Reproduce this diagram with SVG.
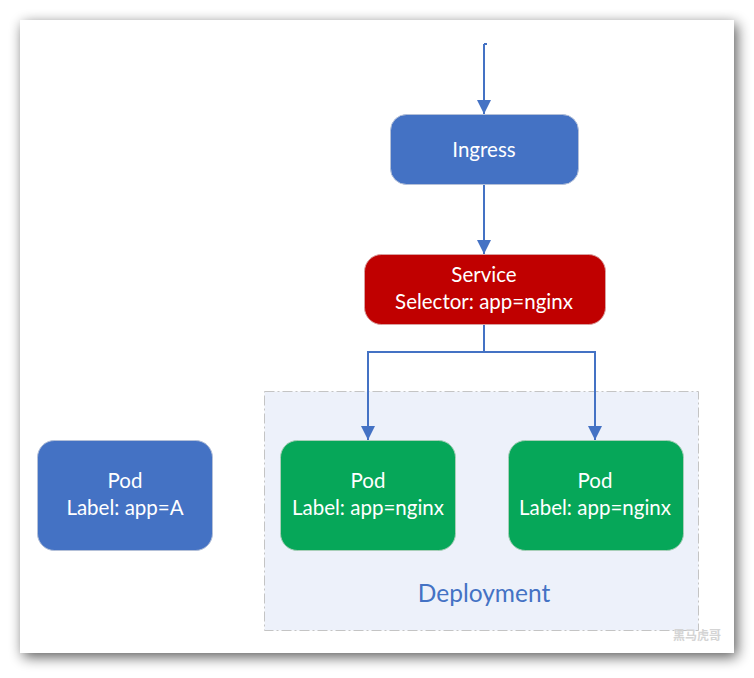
<svg xmlns="http://www.w3.org/2000/svg" width="754" height="678" viewBox="0 0 754 678">
  <defs>
    <filter id="shadow" x="-10%" y="-10%" width="120%" height="120%">
      <feGaussianBlur in="SourceAlpha" stdDeviation="7"/>
      <feOffset dx="3" dy="4" result="b"/>
      <feComponentTransfer><feFuncA type="linear" slope="0.65"/></feComponentTransfer>
      <feMerge><feMergeNode/><feMergeNode in="SourceGraphic"/></feMerge>
    </filter>
    <marker id="arrow" markerWidth="14" markerHeight="14" viewBox="0 0 14 14" refX="14" refY="7" orient="auto" markerUnits="userSpaceOnUse">
      <path d="M0,0 L14,7 L0,14 Z" fill="#4472C4"/>
    </marker>
  </defs>
  <style>
    .node { stroke: #b4c0d8; stroke-width: 1; }
    .blue { fill: #4472C4; }
    .red { fill: #C00000; stroke: #d9a0a0; }
    .green { fill: #06A759; stroke: #a8cfb8; }
    .lbl { font-family: Lato, "Open Sans", sans-serif; font-size: 20.5px; fill: #ffffff; text-anchor: middle; }
    .conn { fill: none; stroke: #4472C4; stroke-width: 2; }
  </style>
  <rect x="20" y="20" width="714" height="633" fill="#ffffff" filter="url(#shadow)"/>

  <g id="deployment">
    <rect x="264.5" y="391.5" width="434" height="239" fill="#EDF1FA" stroke="#c4c4c4" stroke-width="1" stroke-dasharray="10,3,2,3"/>
    <text x="484" y="602" font-family="Lato, 'Open Sans', sans-serif" font-size="24.5" fill="#4472C4" text-anchor="middle">Deployment</text>
  </g>

  <g id="connectors">
    <path class="conn" d="M484,44 L487,44 M484,44 L484,114" marker-end="url(#arrow)"/>
    <path class="conn" d="M484,184 L484,254" marker-end="url(#arrow)"/>
    <path class="conn" d="M484,324 L484,352 L368,352 L368,440" marker-end="url(#arrow)"/>
    <path class="conn" d="M484,352 L595,352 L595,440" marker-end="url(#arrow)"/>
  </g>

  <g id="ingress">
    <rect class="node blue" x="390.5" y="114.5" width="188" height="70" rx="16"/>
    <text class="lbl" x="484" y="157">Ingress</text>
  </g>

  <g id="service">
    <rect class="node red" x="364.5" y="254.5" width="241" height="70" rx="17"/>
    <text class="lbl" x="484" y="282">Service</text>
    <text class="lbl" x="484" y="309">Selector: app=nginx</text>
  </g>

  <g id="pod-a">
    <rect class="node blue" x="37.5" y="440.5" width="175" height="110" rx="17"/>
    <text class="lbl" x="125" y="488">Pod</text>
    <text class="lbl" x="125" y="515">Label: app=A</text>
  </g>

  <g id="pod-nginx-1">
    <rect class="node green" x="280.5" y="440.5" width="175" height="110" rx="17"/>
    <text class="lbl" x="368" y="488">Pod</text>
    <text class="lbl" x="368" y="515">Label: app=nginx</text>
  </g>

  <g id="pod-nginx-2">
    <rect class="node green" x="508.5" y="440.5" width="175" height="110" rx="17"/>
    <text class="lbl" x="595" y="488">Pod</text>
    <text class="lbl" x="595" y="515">Label: app=nginx</text>
  </g>

  <text x="697" y="640" font-family="'Noto Sans CJK SC', sans-serif" font-size="12" font-weight="bold" fill="#d4d4d4" text-anchor="middle">黑马虎哥</text>
</svg>
